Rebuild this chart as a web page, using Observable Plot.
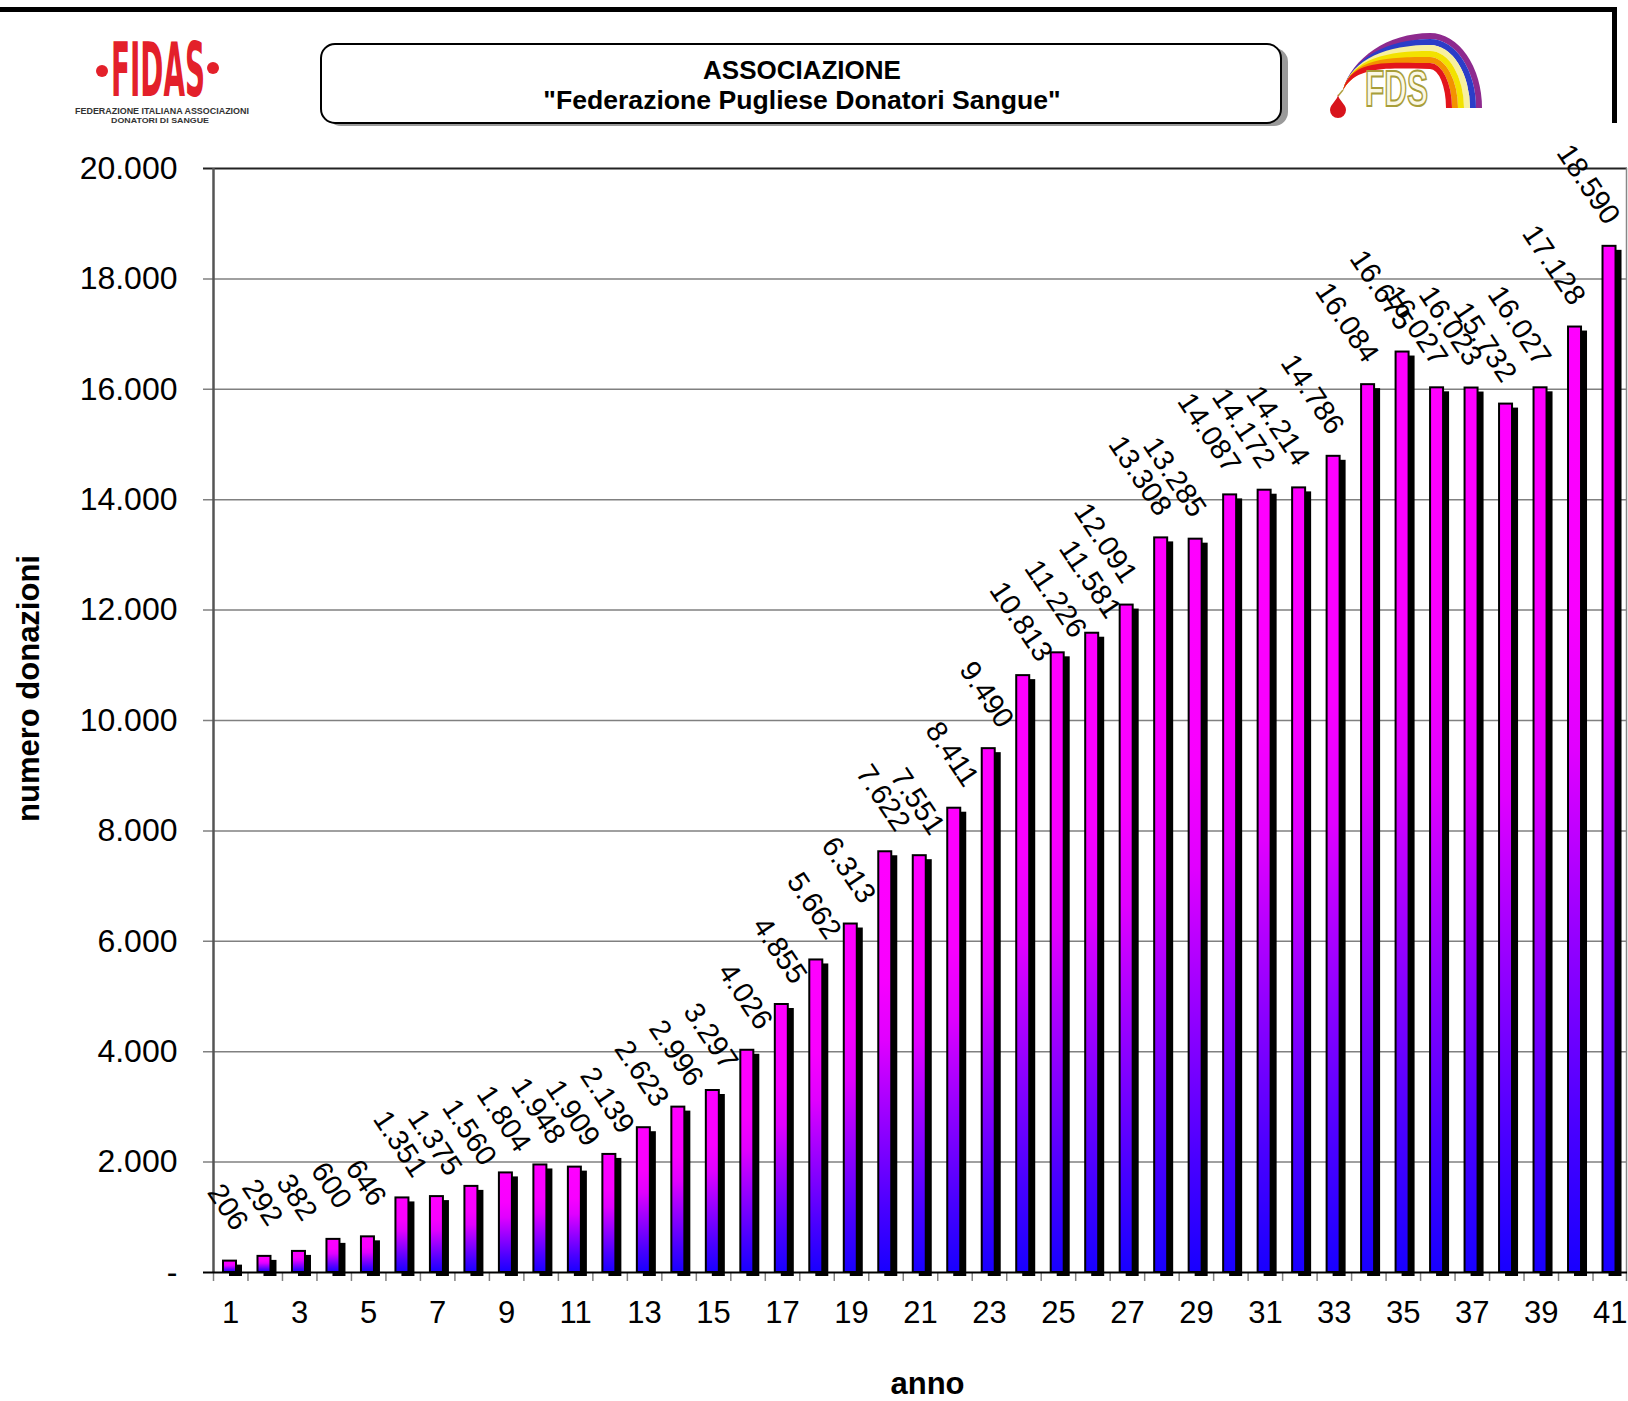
<!DOCTYPE html>
<html><head><meta charset="utf-8">
<script src="https://cdn.jsdelivr.net/npm/d3@7"></script>
<script src="https://cdn.jsdelivr.net/npm/@observablehq/plot@0.6"></script>
<style>
html,body{margin:0;padding:0;background:#fff;}
#page{position:relative;width:1628px;height:1401px;overflow:hidden;font-family:'Liberation Sans',Arial,sans-serif;background:#fff;}
#hdr{position:absolute;left:0;top:0;display:block;}
#chart{position:absolute;left:0;top:140px;}
#chart svg{display:block;}
</style></head>
<body><div id="page"><svg id="hdr" width="1628" height="140"></svg><div id="chart"></div></div>
<script>
// ---- data ----
const anni = [1,2,3,4,5,6,7,8,9,10,11,12,13,14,15,16,17,18,19,20,21,22,23,24,25,26,27,28,29,30,31,32,33,34,35,36,37,38,39,40,41];
const donazioni = [206,292,382,600,646,1351,1375,1560,1804,1948,1909,2139,2623,2996,3297,4026,4855,5662,6313,7622,7551,8411,9490,10813,11226,11581,12091,13308,13285,14087,14172,14214,14786,16084,16675,16027,16023,15732,16027,17128,18590];
const yTicks = [0,2000,4000,6000,8000,10000,12000,14000,16000,18000,20000];
const xLabelTicks = [1,3,5,7,9,11,13,15,17,19,21,23,25,27,29,31,33,35,37,39,41];
const titolo1 = "ASSOCIAZIONE";
const titolo2 = "\"Federazione Pugliese Donatori Sangue\"";

const fmt = v => d3.format(",")(v).replace(/,/g, ".");
const data = anni.map((a, i) => ({anno: a, valore: donazioni[i]}));
const FONT = "'Liberation Sans',Arial,sans-serif";

// ---- header (decoration) ----
const hdr = d3.select("#hdr");
hdr.append("rect").attr("x",0).attr("y",7).attr("width",1617).attr("height",5).attr("fill","#000");
hdr.append("rect").attr("x",1612).attr("y",7).attr("width",5).attr("height",116).attr("fill","#000");
// title box
hdr.append("rect").attr("x",327).attr("y",48).attr("width",961).attr("height",78).attr("rx",14).attr("fill","#9a9a9a");
hdr.append("rect").attr("x",321).attr("y",44).attr("width",960).attr("height",79).attr("rx",14).attr("fill","#fff").attr("stroke","#000").attr("stroke-width",2);
hdr.append("text").attr("x",802).attr("y",79).attr("text-anchor","middle").attr("font-size",26).attr("font-weight","bold").attr("font-family",FONT).text(titolo1);
hdr.append("text").attr("x",802).attr("y",109).attr("text-anchor","middle").attr("font-size",26.6).attr("font-weight","bold").attr("font-family",FONT).text(titolo2);
// FIDAS logo
const red = "#E3202A";
hdr.append("circle").attr("cx",102).attr("cy",71).attr("r",6).attr("fill",red);
hdr.append("circle").attr("cx",213).attr("cy",68).attr("r",6).attr("fill",red);
hdr.append("text").attr("x",111).attr("y",96).attr("font-size",74).attr("font-weight","bold")
  .attr("font-family","'DejaVu Sans Condensed','Liberation Sans Narrow',sans-serif")
  .attr("textLength",94).attr("lengthAdjust","spacingAndGlyphs").attr("fill",red).text("FIDAS");
hdr.append("text").attr("x",162).attr("y",114).attr("text-anchor","middle").attr("font-size",8.5).attr("font-weight","bold").attr("font-family",FONT)
  .attr("textLength",174).attr("lengthAdjust","spacingAndGlyphs").attr("fill","#333").text("FEDERAZIONE ITALIANA ASSOCIAZIONI");
hdr.append("text").attr("x",160).attr("y",123).attr("text-anchor","middle").attr("font-size",8).attr("font-weight","bold").attr("font-family",FONT)
  .attr("textLength",98).attr("lengthAdjust","spacingAndGlyphs").attr("fill","#333").text("DONATORI DI SANGUE");
// rainbow logo
const rb = ["#8E2A8E","#2B3DC8","#F7F0A0","#F2E200","#F39200","#E3141B"];
const curve = k => ({top: 33 + 6*k, rx: 52 - 6*k, ry: 75 - 6*k, right: 1482 - 6*k});
rb.forEach((c, k) => {
  const a = curve(k), b = curve(k+1);
  const d = `M1343,90 C1352,58 1388,${a.top} 1430,${a.top} A${a.rx},${a.ry} 0 0 1 ${a.right},108 L${b.right},108 A${b.rx},${b.ry} 0 0 0 1430,${b.top} C1392,${b.top} 1358,64 1343,90 Z`;
  hdr.append("path").attr("d", d).attr("fill", c);
});
hdr.append("path").attr("d","M1343,90 L1338,96").attr("stroke","#B0A040").attr("stroke-width",1.5);
hdr.append("path").attr("d","M1338,94 C1338,100 1330,104 1330,110 A8,8 0 0 0 1346,110 C1346,104 1338,100 1338,94 Z").attr("fill","#D8141C");
hdr.append("text").attr("x",1365).attr("y",106).attr("font-weight","bold").attr("font-family",FONT)
  .attr("font-size",50).attr("textLength",63).attr("lengthAdjust","spacingAndGlyphs")
  .attr("fill","#FBF8E6").attr("stroke","#A89E3A").attr("stroke-width",2).text("FDS");

// ---- chart ----
const W = 1628, H = 1261;
const ml = 213, mr = 1, mt = 28, mb = 129;
const bw = (W - ml - mr) / anni.length;
const labelStyle = {x: "anno", y: "valore", text: d => fmt(d.valore), rotate: 56, fontSize: 29, fill: "black"};

const chart = Plot.plot({
  width: W, height: H,
  marginLeft: ml, marginRight: mr, marginTop: mt, marginBottom: mb,
  style: {fontFamily: FONT, background: "white", overflow: "visible", color: "black"},
  x: {type: "band", domain: anni, padding: 0, round: false, axis: null},
  y: {domain: [0, 20000], axis: null},
  marks: [
    Plot.ruleY(yTicks.filter(t => t > 0 && t < 20000), {stroke: "#808080", strokeWidth: 1.5, insetLeft: -10}),
    Plot.ruleY([20000], {stroke: "#222", strokeWidth: 2.2, insetLeft: -10}),
    Plot.ruleX([anni[anni.length - 1]], {dx: bw/2 - 1, stroke: "#888", strokeWidth: 1.5}),
    Plot.ruleX([anni[0]], {dx: -bw/2, stroke: "#555", strokeWidth: 2.5}),
    Plot.axisY(yTicks, {tickSize: 0, tickPadding: 36, fontSize: 32, label: null,
      tickFormat: d => d === 0 ? "-" : fmt(d)}),
    Plot.axisX(anni, {tickSize: 9, tickFormat: () => "", dx: -bw/2, stroke: "#808080", strokeWidth: 1.5, label: null}),
    Plot.axisX([anni[anni.length - 1]], {tickSize: 9, tickFormat: () => "", dx: bw/2 - 1, stroke: "#808080", strokeWidth: 1.5, label: null}),
    Plot.axisX(xLabelTicks, {tickSize: 0, tickPadding: 28, fontSize: 31, label: null}),
    Plot.ruleY([0], {stroke: "#000", strokeWidth: 2, insetLeft: -10}),
    // shadow bars
    Plot.barY(data, {x: "anno", y: "valore", insetLeft: 10, insetRight: bw - 23, dx: 6, dy: 4, fill: "black"}),
    // front bars
    Plot.barY(data, {x: "anno", y: "valore", insetLeft: 10, insetRight: bw - 23, fill: "url(#barGrad)", stroke: "black", strokeWidth: 2}),
    // value labels
    Plot.text(data.filter(d => d.anno <= 26), {...labelStyle, dx: -3, dy: -54}),
    Plot.text(data.filter(d => d.anno > 26), {...labelStyle, dx: -22, dy: -62}),
    // axis titles
    Plot.text(["numero donazioni"], {text: d => d, frameAnchor: "left", textAnchor: "middle", lineAnchor: "middle", dx: -(ml - 29), dy: -32, rotate: -90, fontSize: 31, fontWeight: "bold"}),
    Plot.text(["anno"], {text: d => d, frameAnchor: "bottom", textAnchor: "middle", lineAnchor: "middle", dx: 7, dy: 112, fontSize: 31, fontWeight: "bold"})
  ]
});

const defs = d3.select(chart).insert("defs", ":first-child");
const g = defs.append("linearGradient").attr("id", "barGrad").attr("x1", 0).attr("y1", 0).attr("x2", 0).attr("y2", 1);
[[0, "#FF00FF"], [0.3, "#F800FF"], [0.45, "#E000FF"], [0.67, "#8C00FF"], [0.85, "#4800FF"], [1, "#1800FF"]]
  .forEach(([o, c]) => g.append("stop").attr("offset", o).attr("stop-color", c));

document.getElementById("chart").appendChild(chart);
</script>
</body></html>
